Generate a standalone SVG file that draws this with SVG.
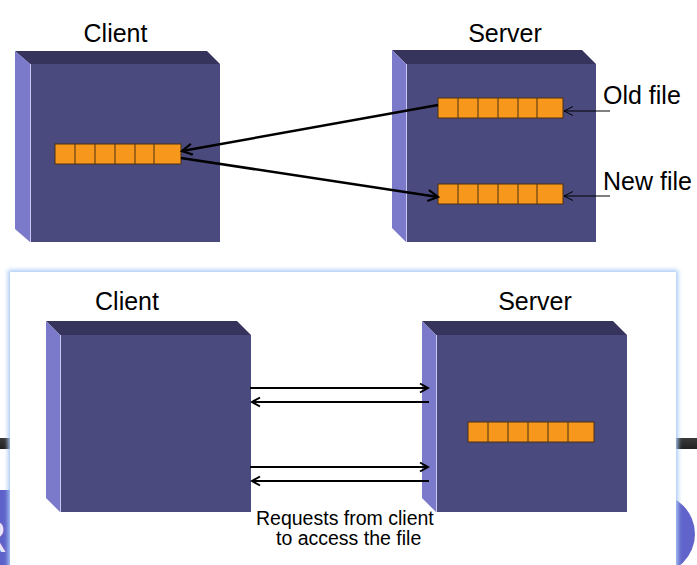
<svg xmlns="http://www.w3.org/2000/svg" width="697" height="565" viewBox="0 0 697 565">
  <defs>
    <style>
      .lbl { font-family: "Liberation Sans", Arial, sans-serif; fill: #000; }
      .big { font-size: 25px; }
      .small { font-size: 19.5px; }
      .top { fill: #36345c; }
      .side { fill: #7b79c9; }
      .front { fill: #4b4a7e; }
      .edge { stroke: #c9c8f2; stroke-width: 1; }
      .bar { fill: #f7981d; stroke: #4a3010; stroke-width: 1; }
      .cell { stroke: #4a3010; stroke-width: 1; }
      .thick { stroke: #000; stroke-width: 2.5; fill: none; }
      .mid { stroke: #000; stroke-width: 2; fill: none; }
      .thin { stroke: #000; stroke-width: 1; fill: none; }
    </style>
    <marker id="ah" markerWidth="14" markerHeight="14" refX="12" refY="7" orient="auto" markerUnits="userSpaceOnUse">
      <path d="M2,1.5 L12,7 L2,12.5" fill="none" stroke="#000" stroke-width="2.2"/>
    </marker>
    <marker id="ahm" markerWidth="12" markerHeight="12" refX="10" refY="6" orient="auto" markerUnits="userSpaceOnUse">
      <path d="M2,1.5 L10,6 L2,10.5" fill="none" stroke="#000" stroke-width="2"/>
    </marker>
    <marker id="ahs" markerWidth="12" markerHeight="12" refX="10" refY="6" orient="auto" markerUnits="userSpaceOnUse">
      <path d="M1,1.5 L10,6 L1,10.5" fill="none" stroke="#000" stroke-width="1"/>
    </marker>
    <filter id="glow" x="-5%" y="-5%" width="110%" height="110%">
      <feGaussianBlur stdDeviation="2"/>
    </filter>
    <linearGradient id="darkbar" x1="0" y1="0" x2="0" y2="1">
      <stop offset="0" stop-color="#3a3a3a"/>
      <stop offset="1" stop-color="#222"/>
    </linearGradient>
  </defs>

  <rect x="0" y="0" width="697" height="565" fill="#fff"/>

  <!-- background slide bits behind the lower panel -->
  <g id="background">
    <rect x="0" y="438" width="697" height="11" fill="url(#darkbar)"/>
    <rect x="0" y="490" width="12" height="75" fill="#5d61c9"/>
    <text x="-21" y="552" font-family="Open Sans, Liberation Sans, sans-serif" font-size="44" fill="#e6e6ff">R</text>
    <circle cx="655" cy="534" r="40" fill="#6064ca"/>
  </g>

  <!-- lower panel -->
  <g id="panel">
    <rect x="8" y="270" width="670" height="300" fill="#a9c9f6" filter="url(#glow)"/>
    <rect x="10" y="272" width="666" height="293" fill="#fff"/>
  </g>

  <!-- Top: client box -->
  <g id="client-top">
    <polygon class="top" points="15,51 207,51 220,64 30,64"/>
    <polygon class="side" points="15,51 30,64 30,242 15,229"/>
    <rect class="front" x="30" y="64" width="190" height="178"/>
    <line class="edge" x1="30.5" y1="64" x2="30.5" y2="242"/>
    <text class="lbl big" x="115.5" y="42" text-anchor="middle">Client</text>
  </g>
  <g id="client-top-buffer">
    <rect class="bar" x="55" y="144" width="126" height="20"/>
    <path class="cell" d="M75,144V164M95,144V164M115,144V164M135,144V164M154,144V164"/>
  </g>

  <!-- Top: server box -->
  <g id="server-top">
    <polygon class="top" points="392,50 582,50 596,64 406,64"/>
    <polygon class="side" points="392,50 406,64 406,242 392,228"/>
    <rect class="front" x="406" y="64" width="190" height="178"/>
    <line class="edge" x1="406.5" y1="64" x2="406.5" y2="242"/>
    <text class="lbl big" x="505" y="42" text-anchor="middle">Server</text>
  </g>
  <g id="old-file">
    <rect class="bar" x="438" y="98" width="125" height="20"/>
    <path class="cell" d="M458,98V118M478,98V118M498,98V118M518,98V118M537,98V118"/>
    <text class="lbl big" x="603" y="104">Old file</text>
  </g>
  <g id="new-file">
    <rect class="bar" x="438" y="184" width="125" height="20"/>
    <path class="cell" d="M458,184V204M478,184V204M498,184V204M518,184V204M537,184V204"/>
    <text class="lbl big" x="603" y="190">New file</text>
  </g>

  <!-- Bottom: client box -->
  <g id="client-bottom">
    <polygon class="top" points="46,321 237,321 251,335 60,335"/>
    <polygon class="side" points="46,321 60,335 60,512 46,498"/>
    <rect class="front" x="60" y="335" width="191" height="177"/>
    <line class="edge" x1="60.5" y1="335" x2="60.5" y2="512"/>
    <text class="lbl big" x="127" y="310" text-anchor="middle">Client</text>
  </g>

  <!-- Bottom: server box -->
  <g id="server-bottom">
    <polygon class="top" points="422,321 613,321 627,335 436,335"/>
    <polygon class="side" points="422,321 436,335 436,512 422,498"/>
    <rect class="front" x="436" y="335" width="191" height="177"/>
    <line class="edge" x1="436.5" y1="335" x2="436.5" y2="512"/>
    <text class="lbl big" x="535" y="310" text-anchor="middle">Server</text>
  </g>
  <g id="server-bottom-buffer">
    <rect class="bar" x="468" y="422" width="126" height="20"/>
    <path class="cell" d="M488,422V442M508,422V442M528,422V442M548,422V442M568,422V442"/>
  </g>

  <!-- connectors -->
  <g id="connectors">
    <path class="thick" d="M438,105 L182,151" marker-end="url(#ah)"/>
    <path class="thick" d="M181,158 L438,197" marker-end="url(#ah)"/>
    <path class="thin" d="M610,111 L564,111" marker-end="url(#ahs)"/>
    <path class="thin" d="M610,196 L564,196" marker-end="url(#ahs)"/>
    <path class="mid" d="M250,388 L428,388" marker-end="url(#ahm)"/>
    <path class="mid" d="M429,402 L252,402" marker-end="url(#ahm)"/>
    <path class="mid" d="M250,467 L428,467" marker-end="url(#ahm)"/>
    <path class="mid" d="M429,481 L252,481" marker-end="url(#ahm)"/>
  </g>

  <g id="caption">
    <text class="lbl small" x="256" y="525">Requests from client</text>
    <text class="lbl small" x="276" y="545">to access the file</text>
  </g>
</svg>
